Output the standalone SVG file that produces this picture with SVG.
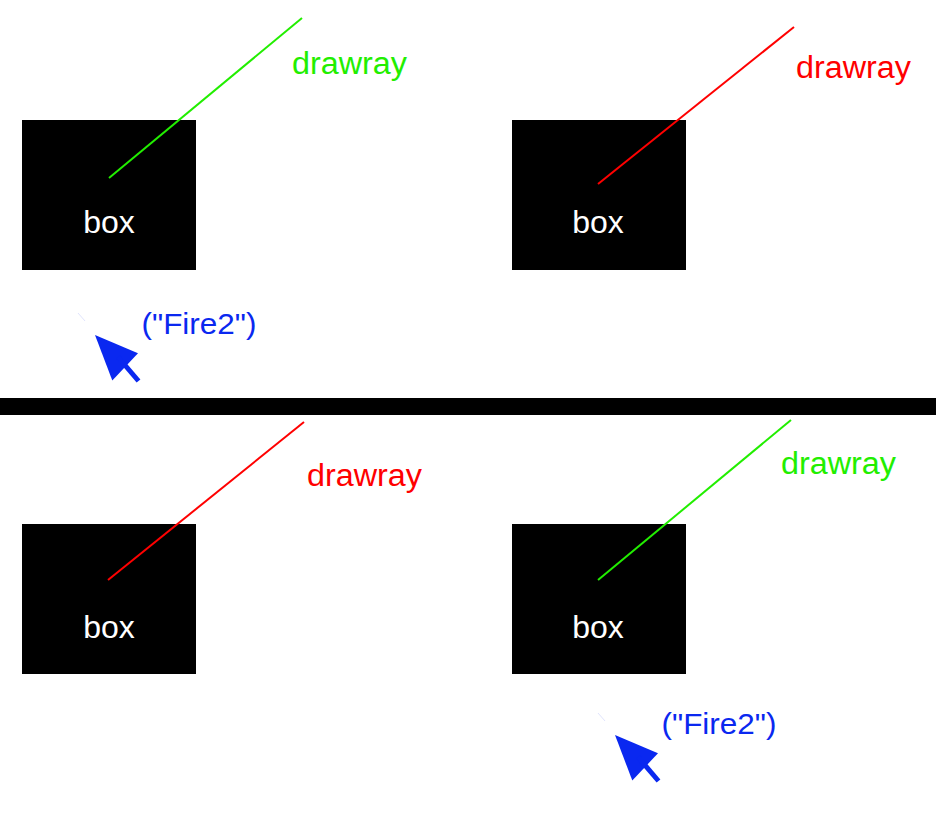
<svg xmlns="http://www.w3.org/2000/svg" width="936" height="813" viewBox="0 0 936 813">
<style>
.bx{fill:#000}
.bt{fill:#fff;font-family:"Liberation Sans",Arial,sans-serif;font-size:32px}
.lbl{font-family:"Liberation Sans",Arial,sans-serif;font-size:31px}
.fire{fill:#0a28f0;font-family:"Liberation Sans",Arial,sans-serif;font-size:29px}
.g{stroke:#22ee00;stroke-width:2;fill:none}
.r{stroke:#ff0000;stroke-width:2;fill:none}
.gt{fill:#22ee00}
.rt{fill:#ff0000}
</style>
<defs>
<g id="cursor">
<line x1="78" y1="313" x2="85" y2="321" stroke="#0a28f0" stroke-width="1" opacity="0.12"/>
<polygon points="95,335 138,353.3 112.3,380.5" fill="#0a28f0"/>
<line x1="118" y1="357" x2="138.5" y2="381" stroke="#0a28f0" stroke-width="5"/>
</g>
</defs>
<rect width="936" height="813" fill="#fff"/>
<rect id="divider" x="0" y="398" width="936" height="17" fill="#000"/>
<g id="box1"><rect class="bx" x="22" y="120" width="174" height="150"/><text class="bt" x="109" y="233" text-anchor="middle">box</text></g>
<g id="box2"><rect class="bx" x="512" y="120" width="174" height="150"/><text class="bt" x="598" y="233" text-anchor="middle">box</text></g>
<g id="box3"><rect class="bx" x="22" y="524" width="174" height="150"/><text class="bt" x="109" y="638" text-anchor="middle">box</text></g>
<g id="box4"><rect class="bx" x="512" y="524" width="174" height="150"/><text class="bt" x="598" y="638" text-anchor="middle">box</text></g>
<g id="connectors">
<line class="g" x1="109" y1="178" x2="302" y2="18"/>
<line class="r" x1="598" y1="184" x2="794" y2="27"/>
<line class="r" x1="108" y1="580" x2="304" y2="422"/>
<line class="g" x1="598" y1="580" x2="791" y2="420"/>
</g>
<g id="labels">
<text class="lbl gt" x="292" y="74" textLength="115" lengthAdjust="spacingAndGlyphs">drawray</text>
<text class="lbl rt" x="796" y="78" textLength="115" lengthAdjust="spacingAndGlyphs">drawray</text>
<text class="lbl rt" x="307" y="486" textLength="115" lengthAdjust="spacingAndGlyphs">drawray</text>
<text class="lbl gt" x="781" y="474" textLength="115" lengthAdjust="spacingAndGlyphs">drawray</text>
</g>
<g id="fire1">
<use href="#cursor"/>
<text class="fire" x="141.5" y="334" textLength="115" lengthAdjust="spacingAndGlyphs">("Fire2")</text>
</g>
<g id="fire2">
<use href="#cursor" transform="translate(520,400)"/>
<text class="fire" x="661.5" y="734" textLength="115" lengthAdjust="spacingAndGlyphs">("Fire2")</text>
</g>
</svg>
